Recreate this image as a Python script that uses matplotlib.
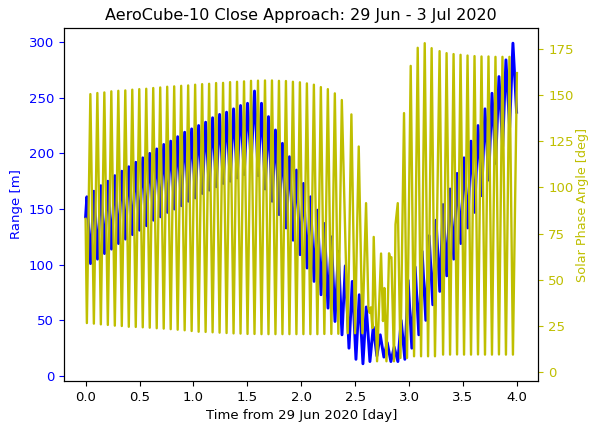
import matplotlib
matplotlib.use("Agg")
import matplotlib.pyplot as plt
import numpy as np

# orbit timing (days)
t_first_peak = 0.012
orbit_period = 0.06477
trough_offset = 0.034

# range [m]: value at t=0, then peak and trough of every orbit
range_start = 143
range_hi = [161, 166, 171, 175, 180, 184, 188, 192, 196, 200, 204, 208,
            211, 215, 219, 222, 225, 228, 232, 235, 237, 240, 243, 245,
            256, 245, 233, 221, 209, 197, 185, 173, 161, 149, 137, 125, 112, 99,
            85, 73, 62, 44, 37, 30, 26, 50, 86,
            98, 112, 126, 140, 154, 168, 182, 196, 211, 225, 240, 254, 269, 284, 299]
range_lo = [101, 105, 110, 114, 119, 123, 127, 131, 135, 140, 143, 147,
            150, 153, 157, 160, 164, 167, 170, 173, 175, 178, 181, 192, 180,
            168, 157, 145, 133, 122, 109, 97, 85, 73, 61, 49, 37, 25,
            15, 11, 13, 18, 17, 13, 13, 15, 25, 37, 50, 64, 76,
            90, 105, 119, 133, 147, 162, 176, 191, 206, 223, 237]

# solar phase angle [deg]
phase_start = 83
# orbits 0..36: minimum then maximum
phase_lo_early = [26.5, 26.2, 25.8, 25.5, 25.1, 24.9, 24.5, 24.4, 24.2, 24.0, 23.7, 23.5,
                  23.2, 22.9, 22.6, 22.2, 21.8, 21.7, 21.5, 21.3, 21.1, 20.9, 20.8, 20.6, 20.6,
                  20.5, 20.5, 20.5, 20.5, 20.5, 20.5, 20.5, 20.5, 20.5, 20.6, 20.6, 20.7]
phase_hi_early = [150.6, 151.2, 151.5, 152.1, 152.4, 152.6, 153.0, 153.3, 153.5, 153.9, 154.2, 154.6,
                  154.8, 155.1, 155.3, 155.7, 156.0, 156.2, 156.6, 156.7, 157.1, 157.3, 157.5, 157.8,
                  157.9, 158.0, 158.0, 157.8, 157.7, 157.3, 157.0, 156.4, 155.7, 154.4, 153.3, 151.0, 147.4]
# irregular stretch around day 2.4-3.3
phase_mid_t = [2.431, 2.465, 2.499, 2.533, 2.567, 2.601, 2.623, 2.635, 2.645, 2.660, 2.672,
               2.703, 2.740, 2.758, 2.771, 2.790, 2.814, 2.823, 2.836, 2.860, 2.874, 2.895,
               2.920, 2.953, 2.981, 3.015, 3.046, 3.080, 3.111, 3.145, 3.176, 3.209, 3.240]
phase_mid = [21.0, 139.6, 21.0, 122.2, 21.0, 91.5, 34.7, 32.0, 35.0, 23.8, 73.2,
             5.8, 64.2, 27.6, 45.5, 5.8, 64.3, 61.8, 62.2, 5.8, 80.0, 91.5,
             7.6, 140.3, 7.6, 165.9, 8.5, 175.7, 8.5, 178.2, 8.5, 175.5, 8.5]
# orbits 50..60: maximum then next minimum
phase_hi_late = [173.9, 172.8, 172.3, 171.9, 171.5, 171.2, 171.0, 171.0, 170.8, 170.8, 170.8]
phase_lo_late = [9.4, 9.4, 9.5, 9.4, 9.4, 9.5, 9.4, 9.4, 9.5, 9.4, 9.4]
phase_end = 162

# build the time series
n_orb = len(range_hi)
t_pk = t_first_peak + orbit_period * np.arange(n_orb)
t_range = np.concatenate([[0.0], np.column_stack([t_pk, t_pk + trough_offset]).ravel()])
rng = np.concatenate([[range_start], np.column_stack([range_hi, range_lo]).ravel()])

n_early = len(phase_hi_early)
t_early = t_pk[:n_early]
t_a = np.column_stack([t_early, t_early + orbit_period / 2]).ravel()
p_a = np.column_stack([phase_lo_early, phase_hi_early]).ravel()
k_late = 50
t_late = t_pk[k_late:k_late + len(phase_hi_late)]
t_c = np.column_stack([t_late + orbit_period / 2, t_late + orbit_period]).ravel()
p_c = np.column_stack([phase_hi_late, phase_lo_late]).ravel()
t_phase = np.concatenate([[0.0], t_a, phase_mid_t, t_c, [4.0]])
phase = np.concatenate([[phase_start], p_a, phase_mid, p_c, [phase_end]])

fs = 9.5
fig, ax = plt.subplots(figsize=(5.9, 4.25), dpi=100)
fig.subplots_adjust(left=0.1085, right=0.9127, bottom=0.1035, top=0.934)
ax.plot(t_range, rng, 'b', lw=2.1)
ax.set_ylabel('Range [m]', color='b', fontsize=fs)
ax.tick_params(axis='y', colors='b', labelsize=fs)
ax.tick_params(axis='x', labelsize=fs)
ax.set_xlabel('Time from 29 Jun 2020 [day]', fontsize=fs)
ax.set_xlim(-0.2, 4.2)
ax.set_ylim(-4.5, 312.6)
ax.set_xticks(np.arange(0, 4.01, 0.5))

ax2 = ax.twinx()
ax2.plot(t_phase, phase, 'y', lw=1.7)
ax2.set_ylabel('Solar Phase Angle [deg]', color='y', fontsize=9.2, labelpad=2)
ax2.tick_params(axis='y', colors='y', labelsize=fs)
ax2.set_ylim(-4.9, 186.4)

ax.set_title('AeroCube-10 Close Approach: 29 Jun - 3 Jul 2020', fontsize=11.5)
fig.savefig('out.png', dpi=100)
